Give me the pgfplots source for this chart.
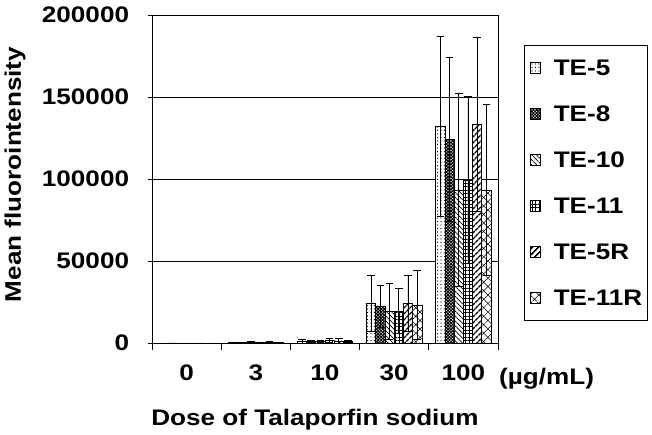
\documentclass[border=0pt]{standalone}
\usepackage{fontspec}
\setmainfont{Liberation Sans}[FakeStretch=1.16]
\usepackage{pgfplots}
\pgfplotsset{compat=1.18}
\usepackage{pgfplotstable}
\usetikzlibrary{patterns.meta}

\pgfplotstableread{
x te5 te5e te8 te8e te10 te10e te11 te11e te5r te5re te11r te11re
0 0 0 0 0 0 0 0 0 0 0 0 0
1 400 300 350 250 450 300 400 300 500 300 400 250
2 1200 1200 800 600 1000 800 1500 1300 1300 1300 900 700
3 24200 17300 22600 12800 19500 17000 19500 13800 24200 16800 23200 21000
4 132300 55000 124200 50000 93300 59000 99400 51000 133500 53000 93300 52000
}\data

\begin{document}
\begin{tikzpicture}[font=\fontsize{22.5pt}{27pt}\selectfont\bfseries]
\useasboundingbox (-152pt,-92pt) rectangle (500pt,343pt);
\begin{axis}[
  at={(0,0)}, anchor=south west,
  scale only axis, width=346pt, height=328pt,
  xmin=-0.5, xmax=4.5, ymin=0, ymax=200000,
  ybar=0pt, bar width=9.2pt,
  axis line style={black, line width=0.8pt},
  xtick={-0.5,0.5,1.5,2.5,3.5,4.5},
  x tick label as interval,
  xticklabels={0,3,10,30,100},
  ytick={0,50000,100000,150000,200000},
  yticklabels={0,50000,100000,150000,200000},
  xtick pos=bottom, ytick pos=left,
  xtick align=outside, ytick align=center,
  major tick length=7.5pt,
  tick style={black, line width=0.8pt},
  ymajorgrids, grid style={black, line width=0.7pt},
  scaled y ticks=false,
  yticklabel style={anchor=east, inner sep=0pt, xshift=-19pt},
  xticklabel style={anchor=base, inner sep=0pt, yshift=-30pt},
  legend style={at={(1.0751,0.9085)}, anchor=north west, draw=none, fill=none,
    inner xsep=6pt, inner ysep=14pt, row sep=30pt, column sep=13pt,
    nodes={inner sep=0pt, text height=16pt, text depth=0pt, anchor=base west}},
  legend cell align=left,
  legend image code/.code={\draw[#1] (0pt,2pt) rectangle (10pt,13pt);},
  error bars/y dir=both, error bars/y explicit,
  error bars/error bar style={black, line width=0.6pt},
  error bars/error mark options={black, rotate=90, mark size=3.8pt, line width=0.6pt},
  every axis plot/.append style={draw=black, line width=0.6pt, fill=white},
]
\addplot[postaction={pattern={Dots[distance=3.5pt, radius=0.6pt]}, pattern color=black}] table[x=x, y=te5, y error=te5e] {\data};
\addlegendentry{TE-5}
\addplot[postaction={pattern={Hatch[angle=45, distance=2.2pt, line width=1pt]}, pattern color=black}] table[x=x, y=te8, y error=te8e] {\data};
\addlegendentry{TE-8}
\addplot[postaction={pattern={Lines[angle=-45, distance=3.5pt, line width=0.7pt]}, pattern color=black}] table[x=x, y=te10, y error=te10e] {\data};
\addlegendentry{TE-10}
\addplot[postaction={pattern={Hatch[angle=0, distance=3.5pt, line width=0.7pt]}, pattern color=black}] table[x=x, y=te11, y error=te11e] {\data};
\addlegendentry{TE-11}
\addplot[postaction={pattern={Lines[angle=45, distance=4pt, line width=1.6pt]}, pattern color=black}] table[x=x, y=te5r, y error=te5re] {\data};
\addlegendentry{TE-5R}
\addplot[postaction={pattern={Hatch[angle=45, distance=6pt, line width=0.5pt]}, pattern color=black}] table[x=x, y=te11r, y error=te11re] {\data};
\addlegendentry{TE-11R}
\end{axis}
\draw[black, line width=0.8pt] (372pt,23pt) rectangle (495pt,298pt);
\node[anchor=base west, inner sep=0pt] at (347pt,-42pt) {(µg/mL)};
\node[anchor=base, inner sep=0pt] at (163pt,-82.7pt) {Dose of Talaporfin sodium};
\node[rotate=90, inner sep=0pt] at (-137pt,168.5pt) {Mean fluorointensity};
\end{tikzpicture}
\end{document}
